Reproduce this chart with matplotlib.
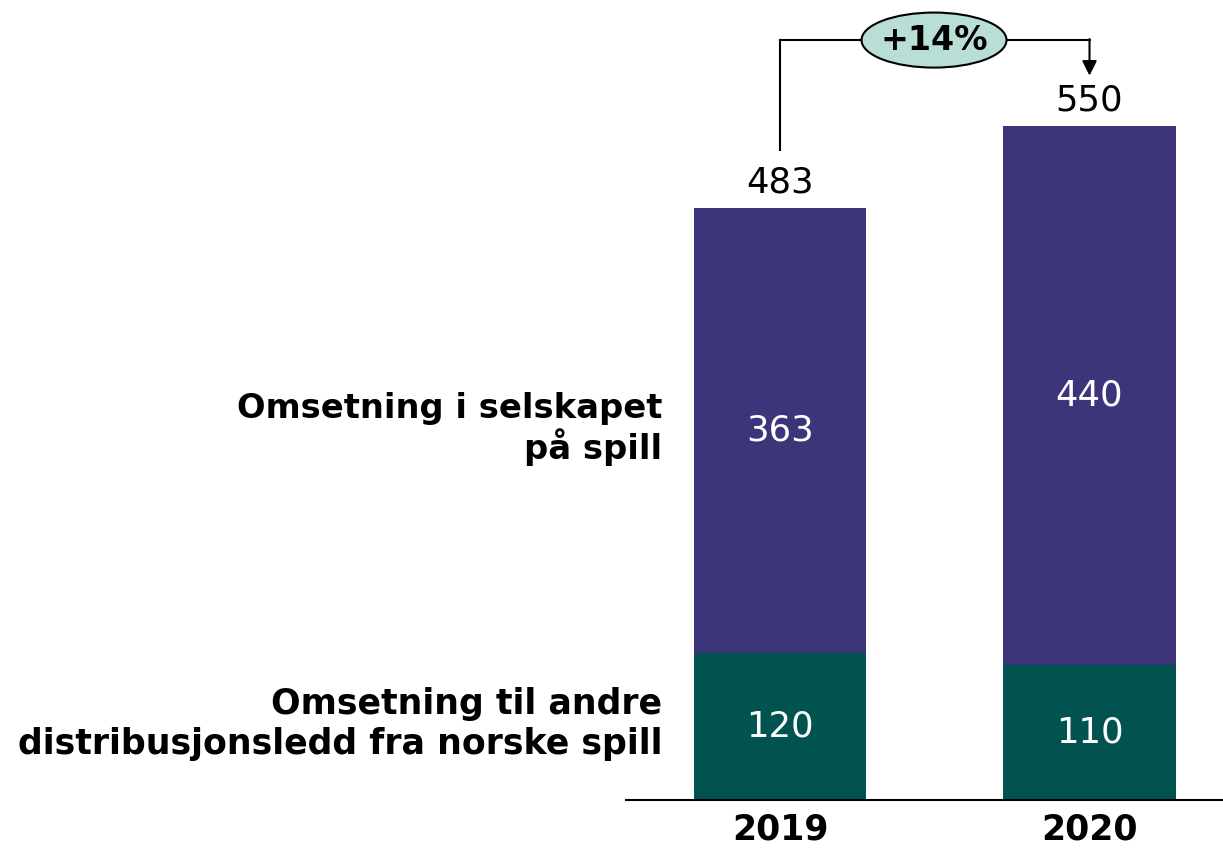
import matplotlib
matplotlib.use("Agg")
import matplotlib.pyplot as plt
from matplotlib.patches import Ellipse

years = ["2019", "2020"]
andre = [120, 110]
selskap = [363, 440]
totals = [483, 550]
growth_label = "+14%"
label_selskap = "Omsetning i selskapet\npå spill"
label_andre = "Omsetning til andre\ndistribusjonsledd fra norske spill"

purple = "#3d357a"
green = "#00534e"

plt.rcParams['font.family'] = ['DejaVu Sans']

fig = plt.figure(figsize=(12.23, 8.48), dpi=100)
ax = fig.add_axes([626/1223, 48/848, 1 - 626/1223, 800/848])
x = [0, 1]
w = 0.556
ax.bar(x, andre, width=w, color=green)
ax.bar(x, selskap, bottom=andre, width=w, color=purple)
ax.set_xlim(-0.4976, 1.4313)
ax.set_ylim(0, 652.7)

for s in ["top", "right", "left"]:
    ax.spines[s].set_visible(False)
ax.spines["bottom"].set_linewidth(1.5)
ax.set_yticks([])
ax.set_xticks(x)
ax.set_xticklabels(years, fontsize=25, fontweight="bold")
ax.tick_params(axis="x", length=0, pad=9)

for i in range(2):
    ax.text(x[i], andre[i] / 2, str(andre[i]), ha="center", va="center", color="white", fontsize=25.5)
    ax.text(x[i], andre[i] + selskap[i] / 2, str(selskap[i]), ha="center", va="center", color="white", fontsize=25.5)
    ax.annotate(str(totals[i]), (x[i], totals[i]), xytext=(0, 6), textcoords="offset points",
                ha="center", va="bottom", fontsize=25.5)

# left labels
ax.text(-0.38, andre[0] + selskap[0] / 2 + 1, label_selskap, ha="right", va="center",
        fontsize=24.3, fontweight="bold", multialignment="right", linespacing=1.1)
ax.text(-0.38, andre[0] / 2 + 2, label_andre, ha="right", va="center",
        fontsize=25, fontweight="bold", multialignment="right", linespacing=1.25)

# growth bracket
ytop = 620
ax.plot([x[0], x[0], x[1]], [530, ytop, ytop], color="black", lw=1.5, clip_on=False, solid_joinstyle="miter")
ax.annotate("", xy=(x[1], 591), xytext=(x[1], ytop + 0.8),
            arrowprops=dict(arrowstyle="-|>", color="black", lw=1.5, mutation_scale=22, shrinkA=0, shrinkB=0),
            annotation_clip=False)
ell = Ellipse((0.4976, ytop), 0.4685, 44.9, facecolor="#b8ded6", edgecolor="black", lw=1.5, clip_on=False, zorder=5)
ax.add_patch(ell)
ax.text(0.4976, ytop, growth_label, ha="center", va="center", fontsize=24, fontweight="bold", zorder=6)

fig.savefig("out.png", dpi=100)
